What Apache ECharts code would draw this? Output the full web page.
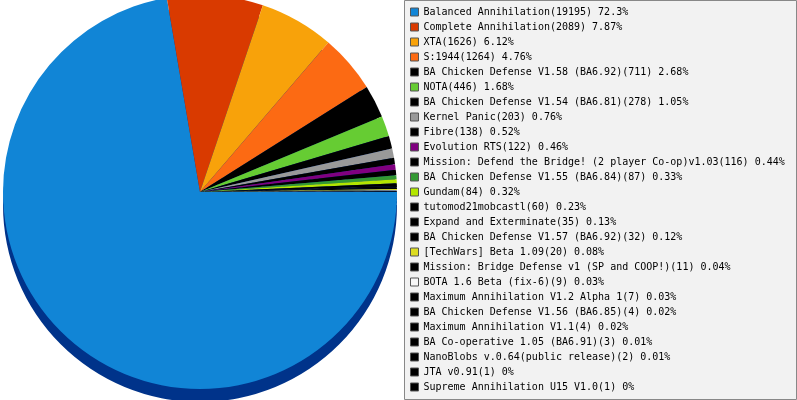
<!DOCTYPE html>
<html>
<head>
<meta charset="utf-8">
<script src="https://cdn.jsdelivr.net/npm/echarts@6/dist/echarts.min.js"></script>
<style>
html,body{margin:0;padding:0;background:#fff;}
#chart{width:797px;height:400px;}
</style>
</head>
<body>
<div id="chart"></div>
<script>
const categories = [
  "Balanced Annihilation",
  "Complete Annihilation",
  "XTA",
  "S:1944",
  "BA Chicken Defense V1.58 (BA6.92)",
  "NOTA",
  "BA Chicken Defense V1.54 (BA6.81)",
  "Kernel Panic",
  "Fibre",
  "Evolution RTS",
  "Mission: Defend the Bridge! (2 player Co-op)v1.03",
  "BA Chicken Defense V1.55 (BA6.84)",
  "Gundam",
  "tutomod21mobcastl",
  "Expand and Exterminate",
  "BA Chicken Defense V1.57 (BA6.92)",
  "[TechWars] Beta 1.09",
  "Mission: Bridge Defense v1 (SP and COOP!)",
  "BOTA 1.6 Beta (fix-6)",
  "Maximum Annihilation V1.2 Alpha 1",
  "BA Chicken Defense V1.56 (BA6.85)",
  "Maximum Annihilation V1.1",
  "BA Co-operative 1.05 (BA6.91)",
  "NanoBlobs v.0.64(public release)",
  "JTA v0.91",
  "Supreme Annihilation U15 V1.0"
];
const values = [19195, 2089, 1626, 1264, 711, 446, 278, 203, 138, 122, 116, 87, 84, 60, 35, 32, 20, 11, 9, 7, 4, 4, 3, 2, 1, 1];
const percents = ["72.3%", "7.87%", "6.12%", "4.76%", "2.68%", "1.68%", "1.05%", "0.76%", "0.52%", "0.46%", "0.44%", "0.33%", "0.32%", "0.23%", "0.13%", "0.12%", "0.08%", "0.04%", "0.03%", "0.03%", "0.02%", "0.02%", "0.01%", "0.01%", "0%", "0%"];
const colors = ["#1185d6", "#d93a00", "#f8a20a", "#fc6a13", "#000000", "#66cc33", "#000000", "#999999", "#000000", "#800080", "#000000", "#339933", "#b3e600", "#000000", "#000000", "#000000", "#dddd22", "#000000", "#f6f6f6", "#000000", "#000000", "#000000", "#000000", "#000000", "#000000", "#000000"];

const pieData = categories.map((n, i) => ({ name: n, value: values[i], itemStyle: { color: colors[i] } }));
const rimData = categories.map((n, i) => ({ name: n + " ", value: values[i] }));
const labelMap = {};
categories.forEach((n, i) => { labelMap[n] = n + "(" + values[i] + ") " + percents[i]; });

const chart = echarts.init(document.getElementById('chart'), null, { renderer: 'canvas' });
chart.setOption({
  animation: false,
  backgroundColor: '#ffffff',
  graphic: [{
    type: 'rect', left: 404, top: 0, z: -10,
    shape: { width: 392, height: 399 },
    style: { fill: '#f2f2f2', stroke: '#888888', lineWidth: 1 }
  }],
  legend: {
    orient: 'vertical',
    left: 410,
    top: 7,
    padding: 0,
    data: categories,
    itemWidth: 8,
    itemHeight: 8,
    itemGap: 5,
    icon: 'rect',
    selectedMode: false,
    itemStyle: { borderColor: '#555555', borderWidth: 1 },
    textStyle: { fontFamily: 'DejaVu Sans Mono', fontSize: 10, lineHeight: 10, color: '#000000', padding: [0, 0, 0, 0] },
    formatter: name => labelMap[name]
  },
  series: [
    {
      type: 'pie',
      silent: true,
      z: 1,
      center: [200, 205],
      radius: 197,
      startAngle: 0,
      clockwise: true,
      label: { show: false },
      labelLine: { show: false },
      itemStyle: { color: '#00338a', borderWidth: 0 },
      data: rimData
    },
    {
      type: 'pie',
      silent: true,
      z: 2,
      center: [200, 192],
      radius: 197,
      startAngle: 0,
      clockwise: true,
      label: { show: false },
      labelLine: { show: false },
      itemStyle: { borderWidth: 0 },
      data: pieData
    }
  ]
});
</script>
</body>
</html>
